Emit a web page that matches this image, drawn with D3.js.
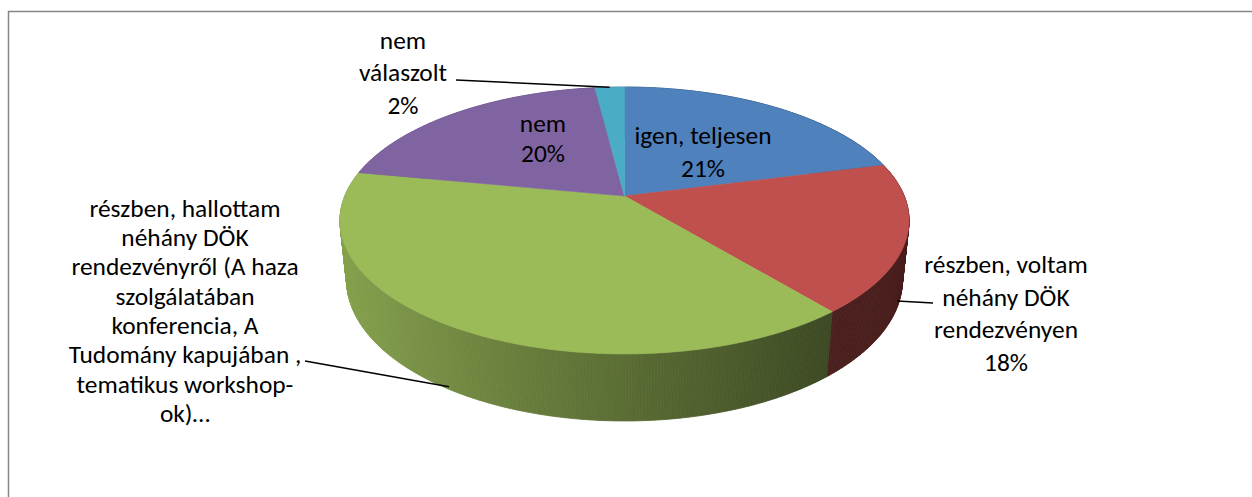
<!DOCTYPE html>
<html>
<head>
<meta charset="utf-8">
<script src="https://cdn.jsdelivr.net/npm/d3@7"></script>
<style>
  body { margin: 0; background: #fff; }
  svg { display: block; }
</style>
</head>
<body>
<div id="chart"></div>
<script>
// Data
const categories = [
  "igen, teljesen",
  "részben, voltam néhány DÖK rendezvényen",
  "részben, hallottam néhány DÖK rendezvényről (A haza szolgálatában konferencia, A Tudomány kapujában , tematikus workshop-ok)…",
  "nem",
  "nem válaszolt"
];
const values = [21, 18, 39, 20, 2];
const colors = ["#4f81bd", "#c0504d", "#9bbb59", "#8064a2", "#4bacc6"];
const labelLines = [
  ["igen, teljesen", "21%"],
  ["részben, voltam", "néhány DÖK", "rendezvényen", "18%"],
  ["részben, hallottam", "néhány DÖK", "rendezvényről (A haza", "szolgálatában",
   "konferencia, A", "Tudomány kapujában ,", "tematikus workshop-", "ok)…"],
  ["nem", "20%"],
  ["nem", "válaszolt", "2%"]
];

// Label layout: centre x, first line y, line step, optional leader
const labelPos = [
  { x: 703, y: 135, step: 33 },
  { x: 1006, y: 264, step: 32.7, leader: { from: [933, 303], angle: 112, h: -0.86 } },
  { x: 185, y: 208, step: 29.3, leader: { from: [305, 361], angle: 213, h: -0.96 } },
  { x: 543, y: 123, step: 30.5 },
  { x: 403, y: 40, step: 32.5, leader: { from: [456, 80], angle: null, h: 0 } }
];

const W = 1252, H = 497;
const svg = d3.select("#chart").append("svg")
  .attr("width", W)
  .attr("height", H);

// chart border (runs off the right and bottom edge)
svg.append("rect")
  .attr("x", 8.5).attr("y", 11.5)
  .attr("width", 1400).attr("height", 700)
  .attr("fill", "none")
  .attr("stroke", "#868686")
  .attr("stroke-width", 1.5);

// --- 3D projection of the pie ---
const cx = 624.5, cy = 196, R = 279.7, depth = 67.5;
const tilt = 27.45 * Math.PI / 180, camDist = 1351;
const sinA = Math.sin(tilt), cosA = Math.cos(tilt);

function project(theta, h) {
  const X = R * Math.sin(theta), Z = -R * Math.cos(theta);
  const pv = h * sinA + Z * cosA;
  const pu = h * cosA - Z * sinA;
  const s = camDist / (camDist - pv);
  return [cx + X * s, cy - pu * s];
}
function viewDepth(theta, h) {
  return h * sinA - R * Math.cos(theta) * cosA;
}

const pie = d3.pie().sort(null).value(d => d)(values);
const step = Math.PI / 360;

function samples(a0, a1) {
  const n = Math.max(2, Math.ceil((a1 - a0) / step));
  return d3.range(n + 1).map(i => a0 + (a1 - a0) * i / n);
}

// outer walls, drawn far to near
const walls = [];
pie.forEach((p, i) => {
  const a = samples(p.startAngle, p.endAngle);
  for (let j = 0; j < a.length - 1; j++) {
    const m = (a[j] + a[j + 1]) / 2;
    const k = Math.max(0.38, 0.58 - 0.3 * Math.sin(m));
    const c = d3.rgb(colors[i]);
    walls.push({
      pts: [project(a[j], 0), project(a[j + 1], 0), project(a[j + 1], -depth), project(a[j], -depth)],
      z: viewDepth(m, 0),
      color: d3.rgb(c.r * k, c.g * k, c.b * k).formatHex()
    });
  }
});
walls.sort((a, b) => a.z - b.z);

const line = d3.line();
svg.append("g").selectAll("path")
  .data(walls)
  .join("path")
  .attr("d", d => line(d.pts) + "Z")
  .attr("fill", d => d.color)
  .attr("stroke", d => d.color)
  .attr("stroke-width", 0.8);

// top faces
svg.append("g").selectAll("path")
  .data(pie)
  .join("path")
  .attr("d", p => line([[cx, cy]].concat(samples(p.startAngle, p.endAngle).map(t => project(t, 0)))) + "Z")
  .attr("fill", (p, i) => colors[i])
  .attr("stroke", (p, i) => colors[i])
  .attr("stroke-width", 0.6);

// leader lines
labelPos.forEach((lp, i) => {
  if (!lp.leader) return;
  const p = pie[i];
  const ang = lp.leader.angle == null ? (p.startAngle + p.endAngle) / 2 : lp.leader.angle * Math.PI / 180;
  const end = project(ang, lp.leader.h * depth);
  svg.append("path")
    .attr("d", line([lp.leader.from, end]))
    .attr("fill", "none")
    .attr("stroke", "#000")
    .attr("stroke-width", 1.5);
});

// labels: size the font so a few sample lines match their widths in the original
const fontFamily = "Carlito, Lato, 'Open Sans', sans-serif";
const fitLines = ["részben, voltam", "részben, hallottam", "rendezvényről (A haza", "tematikus workshop-", "igen, teljesen"];
const fitWidth = 171 + 181 + 235 + 207 + 142;
const probe = svg.append("text")
  .attr("font-family", fontFamily)
  .attr("font-size", 20);
let measured = 0;
fitLines.forEach(s => { probe.text(s); measured += probe.node().getComputedTextLength(); });
const fontSize = 20 * fitWidth / measured;
probe.remove();

labelLines.forEach((lines, i) => {
  const lp = labelPos[i];
  const t = svg.append("text")
    .attr("font-family", fontFamily)
    .attr("font-size", fontSize)
    .attr("fill", "#000")
    .attr("text-anchor", "middle");
  lines.forEach((s, j) => {
    t.append("tspan")
      .attr("x", lp.x)
      .attr("y", lp.y + j * lp.step)
      .attr("dy", "0.35em")
      .text(s);
  });
});
</script>
</body>
</html>
